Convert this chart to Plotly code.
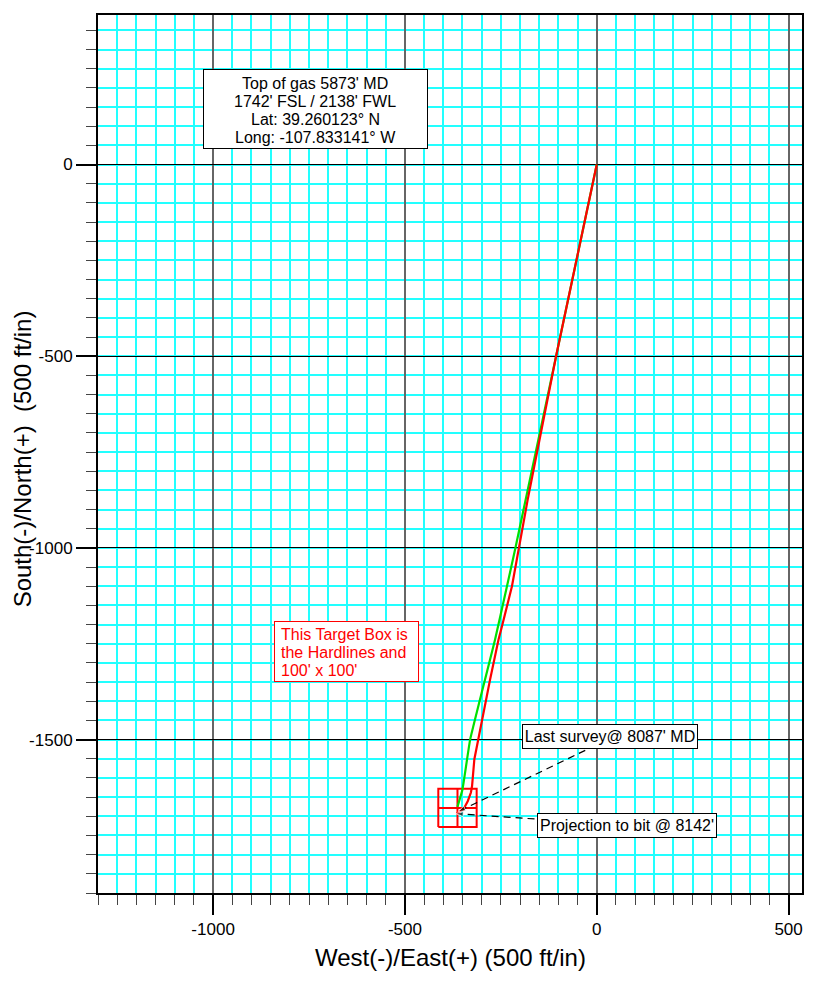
import plotly.graph_objects as go

# ---- data (ft, East(+)/North(+)) ----
plan_ew = [0, -106, -212, -234, -265, -330, -350, -363]
plan_ns = [0, -500, -1000, -1100, -1239, -1500, -1630, -1675]

actual_ew = [0, -54, -106, -180, -202, -221, -247, -256, -278, -298, -308, -319, -325, -328, -336, -347, -360, -366]
actual_ns = [0, -258, -500, -874, -1000, -1100, -1204, -1239, -1343, -1447, -1500, -1551, -1621, -1638, -1660, -1681, -1690, -1693]

# target box (hardlines 100' x 100') centre
target_ew = -363
target_ns = -1678
target_half = 50

# annotation anchor points
survey_label_xy = (-30, -1528)
survey_tip_xy = (-362, -1688)
bit_label_xy = (-131, -1709)
bit_tip_xy = (-368, -1693)

x_ticks = [-1000, -500, 0, 500]
y_ticks = [-1500, -1000, -500, 0]
minor_step = 50

info_lines = ["Top of gas 5873' MD", "1742' FSL / 2138' FWL", "Lat: 39.260123° N", "Long: -107.833141° W"]
target_lines = ["This Target Box is", "the Hardlines and", "100' x 100'"]

FONT = "Liberation Sans, Arial, sans-serif"

fig = go.Figure()

# target box with cross
tx0, tx1 = target_ew - target_half, target_ew + target_half
ty0, ty1 = target_ns - target_half, target_ns + target_half
fig.add_trace(go.Scatter(
    x=[tx0, tx1, tx1, tx0, tx0, None, target_ew, target_ew, None, tx0, tx1],
    y=[ty0, ty0, ty1, ty1, ty0, None, ty0, ty1, None, target_ns, target_ns],
    mode="lines", line=dict(color="#FF0000", width=2), hoverinfo="skip", showlegend=False))

fig.add_trace(go.Scatter(x=plan_ew, y=plan_ns, mode="lines",
                         line=dict(color="#00E000", width=2.2, shape="spline", smoothing=0.3),
                         showlegend=False))
fig.add_trace(go.Scatter(x=actual_ew, y=actual_ns, mode="lines",
                         line=dict(color="#FF0000", width=2.2), showlegend=False))

# dashed leader lines with arrowheads
for (lx, ly), (px, py) in [(survey_label_xy, survey_tip_xy), (bit_label_xy, bit_tip_xy)]:
    fig.add_trace(go.Scatter(x=[lx, px], y=[ly, py], mode="lines+markers",
                             line=dict(color="black", width=1.2, dash="7px,5px"),
                             marker=dict(symbol=["circle", "arrow"], size=[0, 8],
                                         angleref="previous", color="black"),
                             showlegend=False, hoverinfo="skip"))

axis_common = dict(
    showline=True, linecolor="black", linewidth=2, mirror=True,
    showgrid=True,
    ticks="outside", ticklen=20, tickwidth=2, tickcolor="black",
    zeroline=False, tickmode="array",
    tickfont=dict(family=FONT, size=17, color="black"),
    minor=dict(tickmode="linear", dtick=minor_step, tick0=0, showgrid=True,
               gridcolor="#22FFFF", gridwidth=2,
               ticks="outside", ticklen=10, tickwidth=1, tickcolor="#444"),
)

fig.update_xaxes(range=[-1300, 535], tickvals=x_ticks, ticktext=[str(v) for v in x_ticks],
                 gridcolor="#666666", gridwidth=2, **axis_common)
fig.update_yaxes(range=[-1900, 390], tickvals=y_ticks, ticktext=[str(v) for v in y_ticks],
                 gridcolor="black", gridwidth=1, **axis_common)

ann_font = dict(family=FONT, size=16, color="black")

# info box
fig.add_annotation(x=-734, y=146, xref="x", yref="y", text=" ", showarrow=False,
                   bgcolor="white", bordercolor="black", borderwidth=1, borderpad=0,
                   width=223, height=78)
for i, line in enumerate(info_lines):
    fig.add_annotation(x=-734, y=141, xref="x", yref="y", text=line, showarrow=False,
                       font=ann_font, xanchor="center", yanchor="middle",
                       yshift=27.2 - 18.1 * i)

# target text box
fig.add_annotation(x=-653, y=-1270, xref="x", yref="y", text=" ", showarrow=False,
                   bgcolor="white", bordercolor="#FF0000", borderwidth=1, borderpad=0,
                   width=143, height=59)
for i, line in enumerate(target_lines):
    fig.add_annotation(x=-828, y=-1274, xref="x", yref="y", text=line, showarrow=False,
                       font=dict(family=FONT, size=16, color="#FF0000"),
                       xanchor="left", yanchor="middle", yshift=18 - 18 * i)

fig.add_annotation(x=35, y=-1493, xref="x", yref="y",
                   text="Last survey@ 8087' MD",
                   showarrow=False, font=ann_font, align="center",
                   bgcolor="white", bordercolor="black", borderwidth=1, borderpad=0,
                   width=174, height=23)
fig.add_annotation(x=80, y=-1725, xref="x", yref="y",
                   text="Projection to bit @ 8142'",
                   showarrow=False, font=ann_font, align="center",
                   bgcolor="white", bordercolor="black", borderwidth=1, borderpad=0,
                   width=178, height=23)

# axis titles
fig.add_annotation(x=0.5, y=-0.0734, xref="paper", yref="paper",
                   text="West(-)/East(+) (500 ft/in)", showarrow=False,
                   xanchor="center", yanchor="middle",
                   font=dict(family=FONT, size=24, color="black"))
fig.add_annotation(x=-0.108, y=0.495, xref="paper", yref="paper",
                   text="South(-)/North(+)  (500 ft/in)", showarrow=False, textangle=-90,
                   xanchor="center", yanchor="middle",
                   font=dict(family=FONT, size=24, color="black"))

# page body has an 8px default margin, so the figure is offset accordingly
fig.update_layout(
    width=809, height=976,
    margin=dict(l=90, r=15, t=6.5, b=90.5, autoexpand=False),
    plot_bgcolor="white", paper_bgcolor="white",
    showlegend=False,
)

fig.write_html("out.html")
